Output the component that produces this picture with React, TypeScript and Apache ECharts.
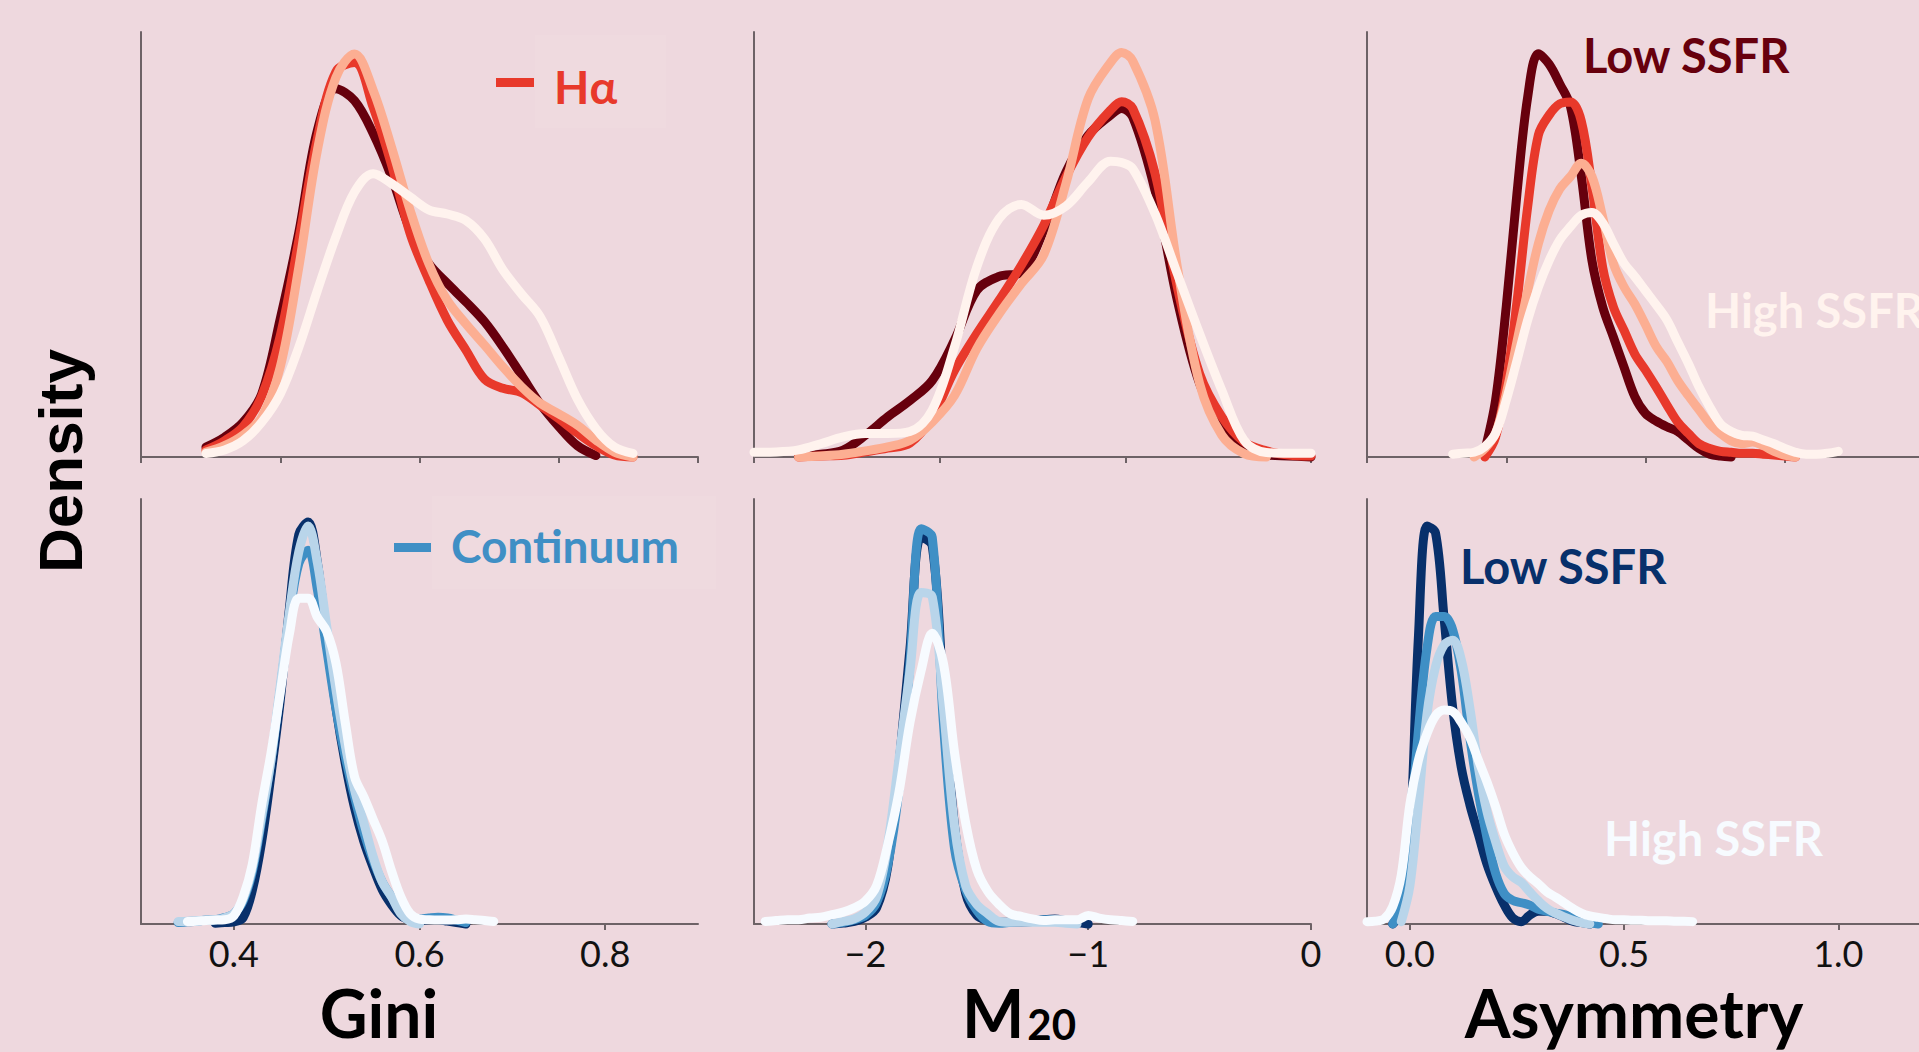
import React, { useEffect, useRef } from "react";
import * as echarts from "echarts";

// ---------- colours ----------
const BG = "#eed8de";
const REDS = ["#67000d", "#e8392b", "#fcae92", "#fff3ee"];
const BLUES = ["#08306b", "#3f8fc5", "#b9d5ea", "#f7fbff"];
const SERIES_NAMES = ["Low SSFR", "Lower-mid SSFR", "Upper-mid SSFR", "High SSFR"];

// ---------- Gini, H-alpha (top left) ----------
const giniHaX = [0.37, 0.39, 0.41, 0.43, 0.45, 0.47, 0.49, 0.51, 0.53, 0.55, 0.57, 0.59, 0.61, 0.63, 0.65, 0.67, 0.69, 0.71, 0.73, 0.75, 0.77, 0.79, 0.81, 0.83];
const giniHaLow = [0.14, 0.28, 0.49, 0.89, 1.95, 3.17, 4.61, 5.2, 5.03, 4.57, 3.95, 3.2, 2.73, 2.45, 2.19, 1.91, 1.55, 1.15, 0.75, 0.43, 0.16, 0.02, null, null];
const giniHaMidLow = [0.1, 0.23, 0.43, 0.86, 1.71, 3.06, 4.5, 5.44, 5.57, 4.94, 4.12, 3.15, 2.5, 1.93, 1.51, 1.1, 0.97, 0.91, 0.73, 0.54, 0.34, 0.16, 0.03, 0.0];
const giniHaMidHigh = [0.07, 0.16, 0.31, 0.56, 1.27, 2.68, 4.33, 5.36, 5.69, 5.18, 4.37, 3.48, 2.73, 2.21, 1.88, 1.58, 1.27, 0.99, 0.76, 0.61, 0.45, 0.24, 0.07, 0.0];
const giniHaHigh = [0.05, 0.1, 0.23, 0.49, 0.89, 1.55, 2.35, 3.11, 3.74, 4.0, 3.86, 3.67, 3.49, 3.43, 3.34, 3.08, 2.64, 2.3, 1.98, 1.41, 0.82, 0.4, 0.14, 0.05];

// ---------- M20, H-alpha (top middle) ----------
const m20HaX = [-2.5, -2.4, -2.3, -2.2, -2.1, -2.0, -1.9, -1.8, -1.7, -1.6, -1.5, -1.4, -1.3, -1.2, -1.1, -1.0, -0.9, -0.85, -0.8, -0.7, -0.6, -0.5, -0.4, -0.3, -0.2, -0.1, 0];
const m20HaLow = [null, null, 0.003, 0.008, 0.02, 0.064, 0.118, 0.166, 0.225, 0.344, 0.49, 0.531, 0.544, 0.666, 0.838, 0.946, 1.005, 1.025, 1.0, 0.784, 0.461, 0.216, 0.089, 0.025, 0.006, 0.003, 0];
const m20HaMidLow = [null, null, 0, 0.003, 0.005, 0.015, 0.026, 0.041, 0.118, 0.255, 0.363, 0.461, 0.564, 0.681, 0.824, 0.941, 1.02, 1.045, 1.025, 0.834, 0.5, 0.245, 0.118, 0.044, 0.018, 0.006, 0.003];
const m20HaMidHigh = [null, null, 0, 0.003, 0.008, 0.018, 0.03, 0.049, 0.103, 0.181, 0.319, 0.421, 0.51, 0.594, 0.804, 1.054, 1.16, 1.19, 1.165, 0.99, 0.559, 0.216, 0.064, 0.01, 0, null, null];
const m20HaHigh = [0.014, 0.015, 0.021, 0.039, 0.059, 0.069, 0.069, 0.075, 0.138, 0.324, 0.559, 0.701, 0.743, 0.711, 0.738, 0.809, 0.87, 0.866, 0.848, 0.716, 0.539, 0.363, 0.196, 0.049, 0.013, 0.011, 0.011];

// ---------- Asymmetry, H-alpha (top right) ----------
const asymHaX = [0.1, 0.125, 0.15, 0.175, 0.2, 0.225, 0.25, 0.275, 0.3, 0.325, 0.35, 0.375, 0.4, 0.425, 0.45, 0.475, 0.5, 0.525, 0.55, 0.575, 0.6, 0.625, 0.65, 0.675, 0.7, 0.725, 0.75, 0.775, 0.8, 0.825, 0.85, 0.875, 0.9, 0.925, 0.95, 0.975, 1.0];
const asymHaLow = [null, null, null, 0.07, 0.6, 1.59, 2.79, 3.81, 4.27, 4.16, 3.95, 3.71, 2.98, 2.08, 1.59, 1.27, 0.95, 0.64, 0.46, 0.38, 0.32, 0.27, 0.18, 0.09, 0.03, 0.01, 0, null, null, null, null, null, null, null, null, null, null];
const asymHaMidLow = [null, null, null, 0, 0.21, 0.78, 1.64, 2.65, 3.41, 3.62, 3.74, 3.76, 3.56, 2.86, 2.01, 1.59, 1.34, 1.09, 0.92, 0.74, 0.55, 0.37, 0.25, 0.14, 0.09, 0.06, 0.05, 0.04, 0.04, 0.03, 0.02, 0.01, 0, null, null, null, null];
const asymHaMidHigh = [null, null, 0, 0.09, 0.25, 0.67, 1.22, 1.76, 2.26, 2.61, 2.84, 2.97, 3.11, 2.97, 2.54, 2.05, 1.8, 1.62, 1.4, 1.17, 1.01, 0.81, 0.65, 0.5, 0.35, 0.25, 0.17, 0.14, 0.16, 0.12, 0.06, 0.02, 0, null, null, null, null];
const asymHaHigh = [0.03, 0.04, 0.05, 0.11, 0.25, 0.6, 1.02, 1.45, 1.8, 2.08, 2.3, 2.44, 2.56, 2.59, 2.48, 2.26, 2.05, 1.91, 1.76, 1.61, 1.45, 1.22, 0.99, 0.74, 0.53, 0.35, 0.27, 0.23, 0.22, 0.18, 0.14, 0.09, 0.05, 0.03, 0.03, 0.04, 0.06];

// ---------- Gini, continuum (bottom left) ----------
const giniContX = [0.34, 0.35, 0.36, 0.37, 0.38, 0.39, 0.4, 0.41, 0.42, 0.43, 0.44, 0.45, 0.46, 0.47, 0.48, 0.49, 0.5, 0.51, 0.52, 0.53, 0.54, 0.55, 0.56, 0.57, 0.58, 0.59, 0.6, 0.61, 0.62, 0.63, 0.64, 0.65, 0.66, 0.67, 0.68];
const giniContLow = [null, null, null, null, 0.02, 0.04, 0.06, 0.18, 0.96, 2.33, 4.21, 6.31, 8.94, 11.0, 11.35, 10.2, 8.1, 6.11, 4.54, 3.28, 2.33, 1.6, 0.96, 0.54, 0.23, 0.11, 0.08, 0.12, 0.12, 0.08, 0.04, 0, null, null, null];
const giniContMidLow = [0.04, 0.06, 0.08, 0.11, 0.12, 0.18, 0.29, 0.65, 1.49, 2.95, 4.62, 6.61, 8.71, 10.18, 10.55, 9.44, 7.76, 6.08, 4.72, 3.59, 2.59, 1.8, 1.18, 0.76, 0.38, 0.23, 0.14, 0.17, 0.19, 0.17, 0.11, 0.04, null, null, null];
const giniContMidHigh = [0.07, 0.08, 0.1, 0.11, 0.12, 0.17, 0.29, 0.71, 1.6, 3.06, 4.63, 6.73, 8.83, 10.51, 11.24, 10.2, 8.41, 6.62, 5.05, 3.79, 2.86, 1.91, 1.18, 0.76, 0.29, 0.07, 0, null, null, null, null, null, null, null, null];
const giniContHigh = [null, 0.07, 0.08, 0.1, 0.11, 0.12, 0.23, 0.76, 1.7, 3.37, 4.82, 6.53, 8.21, 9.2, 9.2, 8.66, 8.26, 7.37, 5.69, 4.16, 3.59, 2.96, 2.33, 1.49, 0.76, 0.29, 0.14, 0.12, 0.11, 0.11, 0.12, 0.14, 0.12, 0.1, 0.07];

// ---------- M20, continuum (bottom middle) ----------
const m20ContX = [-2.45, -2.4, -2.35, -2.3, -2.25, -2.2, -2.15, -2.1, -2.05, -2.0, -1.95, -1.9, -1.85, -1.8, -1.75, -1.7, -1.65, -1.6, -1.55, -1.5, -1.45, -1.4, -1.35, -1.3, -1.25, -1.2, -1.15, -1.1, -1.05, -1.0, -0.95, -0.9, -0.85, -0.8];
const m20ContLow = [null, null, null, null, null, null, 0, 0.01, 0.03, 0.08, 0.19, 0.67, 1.85, 3.24, 4.55, 4.45, 2.72, 1.15, 0.36, 0.1, 0.04, 0.02, 0.02, 0.02, 0.03, 0.05, 0.06, 0.04, 0.02, 0, null, null, null, null];
const m20ContMidLow = [null, null, null, null, null, null, 0, 0.02, 0.05, 0.1, 0.25, 0.69, 1.58, 3.07, 4.65, 4.55, 2.37, 0.89, 0.4, 0.16, 0.03, 0.01, 0.02, 0.03, 0.04, 0.05, 0.05, 0.02, null, null, null, null, null, null];
const m20ContMidHigh = [null, null, null, null, null, null, 0, 0.03, 0.06, 0.14, 0.32, 0.93, 1.93, 2.98, 3.9, 3.85, 2.55, 1.15, 0.45, 0.23, 0.12, 0.03, 0.02, 0.02, 0.02, 0.02, 0.02, 0.01, 0, null, null, null, null, null];
const m20ContHigh = [0.03, 0.04, 0.05, 0.05, 0.07, 0.08, 0.11, 0.14, 0.19, 0.27, 0.45, 0.93, 1.54, 2.37, 2.98, 3.42, 3.07, 2.02, 1.19, 0.64, 0.38, 0.23, 0.12, 0.09, 0.06, 0.04, 0.05, 0.05, 0.05, 0.1, 0.07, 0.05, 0.04, 0.03];

// ---------- Asymmetry, continuum (bottom right) ----------
const asymContX = [-0.1, -0.08, -0.06, -0.04, -0.02, 0.0, 0.02, 0.04, 0.06, 0.08, 0.1, 0.12, 0.14, 0.16, 0.18, 0.2, 0.22, 0.24, 0.26, 0.28, 0.3, 0.32, 0.34, 0.36, 0.38, 0.4, 0.42, 0.44, 0.46, 0.48, 0.5, 0.52, 0.54, 0.56, 0.58, 0.6, 0.62, 0.64, 0.66];
const asymContLow = [null, null, null, 0, 0.25, 1.75, 6.08, 8.43, 8.28, 6.47, 4.58, 3.32, 2.53, 1.9, 1.27, 0.8, 0.41, 0.13, 0.05, 0.19, 0.27, 0.27, 0.22, 0.14, 0.06, 0.03, 0, null, null, null, null, null, null, null, null, null, null, null, null];
const asymContMidLow = [null, null, null, 0, 0.41, 1.91, 4.1, 5.84, 6.51, 6.51, 6.23, 5.36, 3.95, 2.77, 1.83, 1.08, 0.65, 0.5, 0.45, 0.4, 0.31, 0.27, 0.23, 0.2, 0.14, 0.08, 0.03, 0, null, null, null, null, null, null, null, null, null, null, null];
const asymContMidHigh = [null, null, null, null, 0.05, 0.8, 2.53, 4.44, 5.45, 5.91, 6.01, 5.6, 4.58, 3.32, 2.38, 1.75, 1.23, 1.0, 0.88, 0.68, 0.49, 0.33, 0.23, 0.15, 0.08, 0.03, 0, null, null, null, null, null, null, null, null, null, null, null, null];
const asymContHigh = [0.05, 0.06, 0.11, 0.37, 1.04, 2.53, 3.47, 4.03, 4.41, 4.53, 4.5, 4.27, 3.95, 3.47, 3.01, 2.49, 1.91, 1.51, 1.2, 1.0, 0.85, 0.68, 0.57, 0.45, 0.33, 0.23, 0.17, 0.14, 0.11, 0.09, 0.09, 0.08, 0.08, 0.07, 0.07, 0.07, 0.06, 0.06, 0.05];

// ---------- axes ----------
const xMins = [0.3, -2.5, -0.1, 0.3, -2.5, -0.1];
const xMaxs = [0.9, 0, 1.2, 0.9, 0, 1.2];
const yMaxs = [6, 1.25, 4.5, 12, 5, 9];
const topTickValues = [
  [0.3, 0.45, 0.6, 0.75, 0.9],
  [-2.5, -2.5 + 2.5 / 3, -2.5 + 5 / 3, 0],
  [-0.1, 0.225, 0.55, 0.875, 1.2],
];
const bottomTickValues = [
  [0.4, 0.6, 0.8],
  [-2, -1, 0],
  [0, 0.5, 1.0],
];

const panels = [
  { x: giniHaX, ys: [giniHaLow, giniHaMidLow, giniHaMidHigh, giniHaHigh], colors: REDS },
  { x: m20HaX, ys: [m20HaLow, m20HaMidLow, m20HaMidHigh, m20HaHigh], colors: REDS },
  { x: asymHaX, ys: [asymHaLow, asymHaMidLow, asymHaMidHigh, asymHaHigh], colors: REDS },
  { x: giniContX, ys: [giniContLow, giniContMidLow, giniContMidHigh, giniContHigh], colors: BLUES },
  { x: m20ContX, ys: [m20ContLow, m20ContMidLow, m20ContMidHigh, m20ContHigh], colors: BLUES },
  { x: asymContX, ys: [asymContLow, asymContMidLow, asymContMidHigh, asymContHigh], colors: BLUES },
];

const AXIS_COLOR = "#6d6266";
const FONT = "Lato, 'Open Sans', sans-serif";

function fmtTick(col: number, v: number): string {
  if (col === 1) return v < 0 ? "\u2212" + Math.abs(v) : String(v);
  return v.toFixed(1);
}

function buildOption() {
  const colLeft = [141, 754, 1367];
  const rowTop = [32, 499];
  const grid: any[] = [];
  const xAxis: any[] = [];
  const yAxis: any[] = [];
  const series: any[] = [];

  for (let i = 0; i < 6; i++) {
    const row = i < 3 ? 0 : 1;
    const col = i % 3;
    grid.push({
      left: colLeft[col],
      top: rowTop[row],
      width: 557,
      height: 425,
      containLabel: false,
      outerBoundsMode: "none",
    });
    const ticks = row === 0 ? topTickValues[col] : bottomTickValues[col];
    xAxis.push({
      type: "value",
      gridIndex: i,
      min: xMins[i],
      max: xMaxs[i],
      axisLine: { show: true, onZero: false, lineStyle: { color: AXIS_COLOR, width: 2 } },
      axisTick: {
        show: true,
        length: 6,
        customValues: ticks,
        lineStyle: { color: AXIS_COLOR, width: 2 },
      },
      axisLabel: {
        show: row === 1,
        customValues: ticks,
        formatter: (v: number) => fmtTick(col, v),
        fontSize: 36,
        fontFamily: FONT,
        color: "#111",
        margin: 11,
      },
      splitLine: { show: false },
    });
    yAxis.push({
      type: "value",
      gridIndex: i,
      min: 0,
      max: yMaxs[i],
      axisLine: { show: true, onZero: false, lineStyle: { color: AXIS_COLOR, width: 2 } },
      axisTick: { show: false },
      axisLabel: { show: false },
      splitLine: { show: false },
    });

    const p = panels[i];
    p.ys.forEach((ys, k) => {
      const data: number[][] = [];
      p.x.forEach((xv, j) => {
        const yv = ys[j];
        if (yv !== null && yv !== undefined) data.push([xv, yv]);
      });
      series.push({
        type: "line",
        name: SERIES_NAMES[k],
        xAxisIndex: i,
        yAxisIndex: i,
        data,
        smooth: 0.35,
        showSymbol: false,
        clip: false,
        silent: true,
        z: 2 + k,
        lineStyle: { color: p.colors[k], width: 9, cap: "round", join: "round" },
      });
    });
  }

  const titleStyle = (text: string) => ({
    text,
    font: `bold 66px ${FONT}`,
    fill: "#000",
    textAlign: "center",
    textVerticalAlign: "middle",
  });

  const graphic: any[] = [
    // faint legend boxes
    { type: "rect", shape: { x: 535, y: 35, width: 131, height: 93 }, style: { fill: "rgba(255,255,255,0.06)" }, z: 0 },
    { type: "rect", shape: { x: 432, y: 496, width: 284, height: 93 }, style: { fill: "rgba(255,255,255,0.06)" }, z: 0 },
    // legends
    { type: "rect", shape: { x: 496, y: 78, width: 38, height: 9 }, style: { fill: REDS[1] }, z: 10 },
    {
      type: "text", x: 554, y: 86, z: 10,
      style: { text: "H\u03b1", font: `bold 46px ${FONT}`, fill: REDS[1], textAlign: "left", textVerticalAlign: "middle" },
    },
    { type: "rect", shape: { x: 394, y: 543, width: 37, height: 9 }, style: { fill: BLUES[1] }, z: 10 },
    {
      type: "text", x: 451, y: 545, z: 10,
      style: { text: "Continuum", font: `bold 46px ${FONT}`, fill: BLUES[1], textAlign: "left", textVerticalAlign: "middle" },
    },
    // SSFR annotations
    {
      type: "text", x: 1583, y: 55, z: 10,
      style: { text: "Low SSFR", font: `bold 47px ${FONT}`, fill: REDS[0], textAlign: "left", textVerticalAlign: "middle" },
    },
    {
      type: "text", x: 1705, y: 310, z: 10,
      style: { text: "High SSFR", font: `bold 47px ${FONT}`, fill: REDS[3], textAlign: "left", textVerticalAlign: "middle" },
    },
    {
      type: "text", x: 1460, y: 566, z: 10,
      style: { text: "Low SSFR", font: `bold 47px ${FONT}`, fill: BLUES[0], textAlign: "left", textVerticalAlign: "middle" },
    },
    {
      type: "text", x: 1604, y: 838, z: 10,
      style: { text: "High SSFR", font: `bold 47px ${FONT}`, fill: BLUES[3], textAlign: "left", textVerticalAlign: "middle" },
    },
    // axis titles
    { type: "text", x: 379, y: 1012, z: 10, style: titleStyle("Gini") },
    {
      type: "text", x: 1019, y: 1012, z: 10,
      style: {
        text: "{m|M}{s|20}",
        fill: "#000",
        textAlign: "center",
        textVerticalAlign: "middle",
        rich: {
          m: { font: `bold 66px ${FONT}`, fill: "#000" },
          s: { font: `bold 42px ${FONT}`, fill: "#000", verticalAlign: "bottom", padding: [0, 0, 0, 3] },
        },
      },
    },
    { type: "text", x: 1634, y: 1012, z: 10, style: titleStyle("Asymmetry") },
    // shared y label
    {
      type: "text", x: 60, y: 461, rotation: Math.PI / 2, z: 10,
      style: { text: "Density", font: `bold 62px 'Liberation Sans', Arial, sans-serif`, fill: "#000", textAlign: "center", textVerticalAlign: "middle" },
    },
  ];

  return {
    animation: false,
    backgroundColor: BG,
    grid,
    xAxis,
    yAxis,
    series,
    graphic,
  };
}

export default function App() {
  const ref = useRef<HTMLDivElement>(null);
  useEffect(() => {
    document.body.style.margin = "0";
    document.body.style.background = BG;
    const chart = echarts.init(ref.current as HTMLDivElement, null, { renderer: "svg", width: 1919, height: 1052 });
    chart.setOption(buildOption() as any);
    return () => chart.dispose();
  }, []);
  return <div ref={ref} style={{ position: "fixed", left: 0, top: 0, width: 1919, height: 1052, background: BG }} />;
}
